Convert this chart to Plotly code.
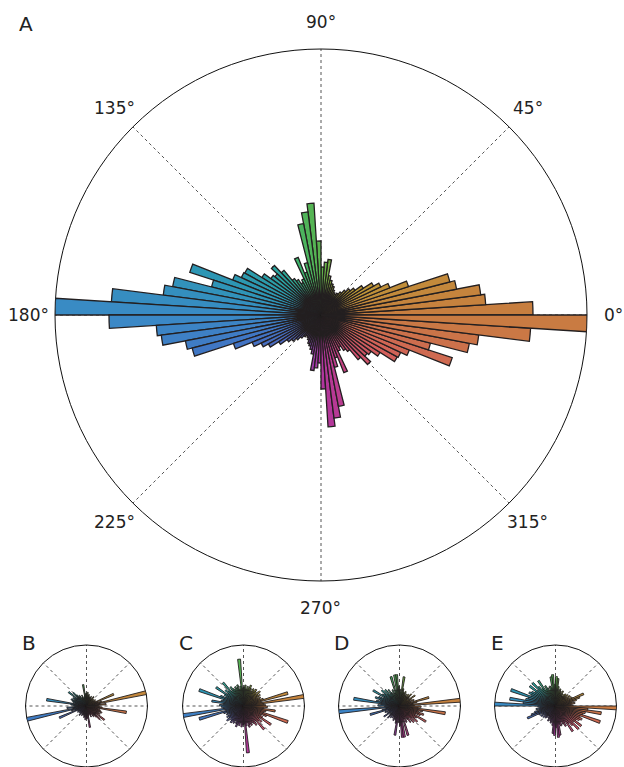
import math
import plotly.graph_objects as go

# Axial orientation histograms: 50 bins of 3.6 deg cover 0-180 deg,
# the 180-360 half repeats them (orientation is undirected).
BIN_WIDTH = 3.6

main_counts = [212, 165, 161, 138, 133, 92, 74, 66, 60, 50,
               42, 38, 34, 30, 27, 25, 26, 28, 31, 33,
               36, 40, 56, 53, 48, 74, 112, 104, 93, 54,
               45, 62, 40, 37, 42, 45, 58, 68, 60, 62,
               70, 87, 88, 95, 138, 113, 151, 159, 210, 266]

counts_b = [12, 20, 14, 62, 16, 12, 30, 10, 8, 11,
            9, 7, 10, 8, 12, 9, 7, 11, 8, 10,
            9, 12, 10, 14, 11, 13, 12, 22, 10, 9,
            8, 12, 10, 9, 13, 11, 15, 19, 12, 23,
            14, 16, 13, 17, 15, 14, 12, 41, 16, 13]

counts_c = [22, 20, 61, 18, 46, 21, 17, 19, 16, 20,
            18, 22, 17, 19, 21, 18, 20, 16, 19, 22,
            18, 20, 17, 21, 19, 18, 47, 20, 17, 22,
            19, 21, 18, 20, 23, 19, 31, 21, 24, 20,
            33, 22, 19, 25, 47, 21, 23, 32, 20, 24]

counts_d = [15, 62, 14, 18, 31, 12, 16, 11, 14, 19,
            10, 13, 17, 12, 15, 11, 14, 12, 16, 13,
            15, 18, 30, 14, 17, 20, 32, 32, 16, 31,
            14, 18, 13, 16, 20, 15, 22, 17, 24, 19,
            21, 31, 18, 23, 26, 20, 24, 47, 19, 22]

counts_e = [18, 16, 20, 17, 22, 26, 31, 19, 15, 18,
            14, 17, 13, 16, 15, 12, 14, 17, 13, 16,
            18, 15, 20, 28, 30, 22, 32, 30, 19, 21,
            17, 20, 23, 19, 31, 22, 26, 33, 24, 33,
            25, 28, 30, 27, 48, 29, 31, 47, 33, 62]

tick_angles = [0, 45, 90, 135, 180, 225, 270, 315]
tick_labels = ["0°", "45°", "90°", "135°", "180°", "225°", "270°", "315°"]
panel_labels = ["A", "B", "C", "D", "E"]

# circular hue wheel used to colour each bar by its direction
HUE_STOPS = [
    (0, (200, 125, 64)), (30, (190, 150, 55)), (45, (180, 160, 52)),
    (70, (140, 175, 60)), (90, (92, 180, 77)), (115, (60, 180, 110)),
    (135, (42, 165, 160)), (160, (45, 150, 180)), (180, (58, 138, 198)),
    (200, (66, 115, 195)), (225, (85, 96, 184)), (250, (130, 70, 175)),
    (270, (176, 52, 162)), (300, (200, 70, 120)), (330, (210, 96, 90)),
    (360, (200, 125, 64)),
]


def wheel_color(angle):
    angle = angle % 360
    for (a0, c0), (a1, c1) in zip(HUE_STOPS[:-1], HUE_STOPS[1:]):
        if a0 <= angle <= a1:
            t = (angle - a0) / (a1 - a0)
            r, g, b = (round(c0[i] + t * (c1[i] - c0[i])) for i in range(3))
            return f"rgb({r},{g},{b})"
    return "rgb(0,0,0)"


def full_circle(half):
    return list(half) + list(half)


W, H = 624, 767


def px_domain(x0, x1, top, bottom):
    return dict(x=[x0 / W, x1 / W], y=[max(0, (H - bottom) / H), (H - top) / H])


# main panel geometry (pixels): circle spans x 55-587, y 49-581
MAIN_BOX = (55, 587, 49, 581)
domains = [
    px_domain(*MAIN_BOX),
    px_domain(25, 148, 645, 767),
    px_domain(182, 305, 645, 767),
    px_domain(338, 461, 645, 767),
    px_domain(494, 617, 645, 767),
]
datasets = [main_counts, counts_b, counts_c, counts_d, counts_e]
rmax = [max(d) for d in datasets]

fig = go.Figure()
n_bins = 2 * len(main_counts)
centers = [BIN_WIDTH * (k + 0.5) for k in range(n_bins)]
colors = [wheel_color(c) for c in centers]

for i, data in enumerate(datasets):
    key = "polar" if i == 0 else f"polar{i + 1}"
    fig.add_trace(go.Barpolar(
        r=full_circle(data),
        theta=centers,
        width=[BIN_WIDTH] * n_bins,
        marker=dict(color=colors, line=dict(color="#231f20", width=1.3 if i == 0 else 0.9)),
        subplot=key,
        showlegend=False,
        hoverinfo="skip",
    ))
    fig.layout[key] = dict(
        domain=domains[i],
        bgcolor="white",
        radialaxis=dict(visible=False, range=[0, rmax[i]]),
        angularaxis=dict(
            rotation=0,
            direction="counterclockwise",
            showline=True, linecolor="#111", linewidth=1,
            showgrid=True, gridcolor="#555", griddash="dot", gridwidth=1,
            tickvals=tick_angles, ticktext=tick_labels,
            showticklabels=False, ticks="",
            layer="below traces",
        ),
    )

# angle labels of the main panel, centred on a ring 1.1x the plot radius
cx = (MAIN_BOX[0] + MAIN_BOX[1]) / 2
cy = (MAIN_BOX[2] + MAIN_BOX[3]) / 2
label_ring = 1.1 * (MAIN_BOX[1] - MAIN_BOX[0]) / 2
for ang, txt in zip(tick_angles, tick_labels):
    lx = cx + label_ring * math.cos(math.radians(ang))
    ly = cy - label_ring * math.sin(math.radians(ang))
    fig.add_annotation(
        text=txt, x=lx / W, y=1 - ly / H, xref="paper", yref="paper",
        xanchor="center", yanchor="middle", showarrow=False,
        font=dict(family="DejaVu Sans", size=17, color="#222"),
    )

label_pos = [(25.5, 23.5), (28.5, 642.5), (186, 642.5), (341.5, 642.5), (497.5, 642.5)]
for text, (x, y) in zip(panel_labels, label_pos):
    fig.add_annotation(
        text=text, x=x / W, y=1 - y / H, xref="paper", yref="paper",
        xanchor="center", yanchor="middle", showarrow=False,
        font=dict(family="DejaVu Sans", size=20, color="#222"),
    )

fig.update_layout(
    width=W, height=H, autosize=False,
    margin=dict(l=0, r=0, t=0, b=0),
    paper_bgcolor="white", plot_bgcolor="white",
    barmode="overlay",
)

fig.write_html("out.html")
